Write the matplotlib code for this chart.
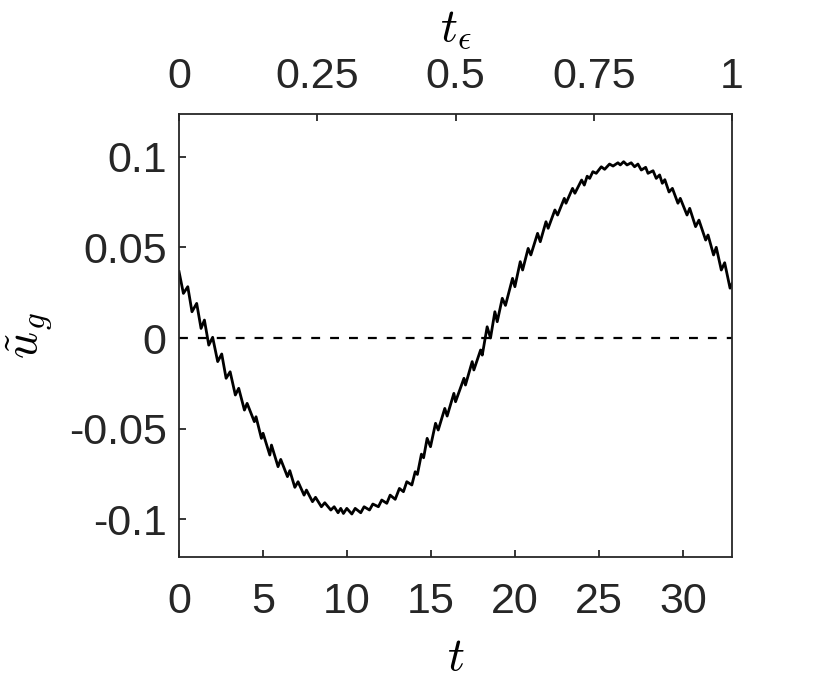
import matplotlib
matplotlib.use("Agg")
import matplotlib.pyplot as plt

plt.rcParams["mathtext.fontset"] = "cm"
plt.rcParams["font.family"] = ["Liberation Sans", "DejaVu Sans"]

# extent of the time axis (t_eps = t / t_end)
t_end = 32.9

# curve: wiggle crests and troughs
t = [0.0, 0.26, 0.52, 0.77, 1.05, 1.31, 1.51, 1.77, 2.0, 2.30, 2.54, 2.80,
     3.04, 3.35, 3.55, 3.89, 4.05, 4.48, 4.58, 4.90, 5.00, 5.40, 5.50, 5.89,
     6.05, 6.45, 6.59, 6.89, 7.08, 7.44, 7.58, 7.94, 8.12, 8.47, 8.67, 9.03,
     9.23, 9.46, 9.62, 9.78, 9.98, 10.28, 10.48, 10.81, 11.01, 11.33, 11.53,
     11.86, 12.06, 12.36, 12.56, 12.86, 13.11, 13.35, 13.55, 13.85, 14.05,
     14.18, 14.42, 14.55, 14.76, 14.96, 15.26, 15.42, 15.81, 15.95, 16.35,
     16.45, 16.95, 17.04, 17.44, 17.54, 17.94, 18.04, 18.33, 18.53, 18.79,
     18.93, 19.23, 19.42, 19.84, 19.98, 20.30, 20.44, 20.77, 20.93, 21.33,
     21.49, 21.83, 21.96, 22.36, 22.52, 22.92, 23.02, 23.41, 23.55, 23.95,
     24.11, 24.28, 24.43, 24.62, 24.82, 25.12, 25.32, 25.61, 25.82, 26.11,
     26.25, 26.45, 26.65, 26.90, 27.10, 27.30, 27.50, 27.76, 27.90, 28.20,
     28.39, 28.59, 28.75, 28.90, 29.15, 29.35, 29.68, 29.82, 30.22, 30.38,
     30.73, 30.93, 31.33, 31.47, 31.80, 31.96, 32.26, 32.46, 32.78, 32.9]
u = [0.0366, 0.0246, 0.0283, 0.0145, 0.0191, 0.0053, 0.0099, -0.0039,
     0.0004, -0.0130, -0.0088, -0.0222, -0.0186, -0.0314, -0.0277, -0.0397,
     -0.0360, -0.0461, -0.0434, -0.0553, -0.0525, -0.0645, -0.0590, -0.0709,
     -0.0669, -0.0764, -0.0731, -0.0823, -0.0792, -0.0866, -0.0838, -0.0902,
     -0.0878, -0.0930, -0.0908, -0.0948, -0.0930, -0.0963, -0.0939, -0.0967,
     -0.0939, -0.0970, -0.0939, -0.0963, -0.0930, -0.0948, -0.0915, -0.0930,
     -0.0893, -0.0911, -0.0866, -0.0889, -0.0829, -0.0847, -0.0792, -0.0810,
     -0.0737, -0.0752, -0.0640, -0.0660, -0.0553, -0.0599, -0.0470, -0.0507,
     -0.0388, -0.0430, -0.0305, -0.0351, -0.0222, -0.0259, -0.0130, -0.0176,
     -0.0066, -0.0094, 0.0062, 0.0000, 0.0145, 0.0090, 0.0219, 0.0180,
     0.0329, 0.0283, 0.0421, 0.0375, 0.0494, 0.0458, 0.0577, 0.0531, 0.0641,
     0.0605, 0.0706, 0.0678, 0.0770, 0.0743, 0.0825, 0.0798, 0.0871, 0.0843,
     0.0892, 0.0880, 0.0917, 0.0908, 0.0944, 0.0930, 0.0959, 0.0948, 0.0966,
     0.0954, 0.0972, 0.0954, 0.0966, 0.0944, 0.0959, 0.0926, 0.0941, 0.0908,
     0.0922, 0.0880, 0.0899, 0.0853, 0.0873, 0.0805, 0.0825, 0.0743, 0.0770,
     0.0678, 0.0715, 0.0614, 0.0650, 0.0540, 0.0568, 0.0458, 0.0500, 0.0375,
     0.0415, 0.0275, 0.0300]

x_ticks = [0, 5, 10, 15, 20, 25, 30]
x_ticklabels = ["0", "5", "10", "15", "20", "25", "30"]
top_ticks = [0, 0.25, 0.5, 0.75, 1]
top_ticklabels = ["0", "0.25", "0.5", "0.75", "1"]
y_ticks = [-0.1, -0.05, 0, 0.05, 0.1]
y_ticklabels = ["-0.1", "-0.05", "0", "0.05", "0.1"]
y_lim = (-0.1207, 0.1235)

axis_color = "#262626"

fig = plt.figure(figsize=(8.3, 6.98), dpi=100)
ax = fig.add_axes([0.2157, 0.2020, 0.6663, 0.6347])

ax.plot([0, t_end], [0, 0], color="black", linestyle=(0, (4.0, 4.5)),
        linewidth=1.6)
ax.plot(t, u, color="black", linewidth=2.0, solid_joinstyle="round")

ax.set_xlim(0, t_end)
ax.set_ylim(*y_lim)
ax.set_xticks(x_ticks)
ax.set_xticklabels(x_ticklabels)
ax.set_yticks(y_ticks)
ax.set_yticklabels(y_ticklabels)

for side in ["left", "right", "top", "bottom"]:
    ax.spines[side].set_color(axis_color)
    ax.spines[side].set_linewidth(1.3)

ax.tick_params(axis="x", direction="in", length=5, width=1.3,
               colors=axis_color, labelsize=31, pad=18)
ax.tick_params(axis="y", direction="in", length=5, width=1.3,
               colors=axis_color, labelsize=31, pad=9)

top = ax.secondary_xaxis("top", functions=(lambda x: x / t_end,
                                           lambda s: s * t_end))
top.set_xticks(top_ticks)
top.set_xticklabels(top_ticklabels)
top.tick_params(direction="in", length=5, width=1.3, colors=axis_color,
                labelsize=31, pad=12)
top.spines["top"].set_visible(False)

ax.set_xlabel(r"$t$", fontsize=34, labelpad=10)
top.set_xlabel(r"$t_\epsilon$", fontsize=34, labelpad=12)
ax.set_ylabel(r"$\tilde{u}_g$", fontsize=34, labelpad=10)

fig.savefig("out.png", dpi=100)
